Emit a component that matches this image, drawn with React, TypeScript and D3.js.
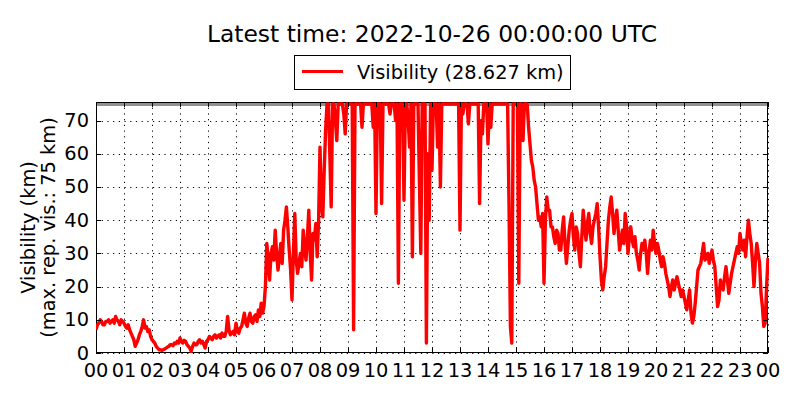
import React, { useEffect, useRef } from "react";
import * as d3 from "d3";

// visibility in km, one reading every 3 minutes from 2022-10-25 00:00 UTC (one row per hour)
const visibility: number[] = [
  7, 8.5, 9, 10, 9.5, 8.5, 8.5, 9.5, 9.5, 10, 9, 9.5, 10, 9, 11, 10, 9.5, 8.5, 10, 9.5,
  9, 8, 7.5, 8.5, 7, 6, 5, 4, 2, 3, 4, 5.5, 6.5, 8, 10, 7.5, 8, 6.5, 7, 5,
  4, 3.5, 3, 2, 1.5, 1, 1, 0.8, 1, 1.2, 1.5, 1.8, 2, 2.5, 2.5, 2.2, 3, 2.8, 3.5, 3,
  4.5, 3.5, 3, 3.8, 3.5, 2.5, 2, 1.5, 0.5, 2, 3, 2.5, 2.5, 3.5, 4, 3, 3.5, 2.5, 1.5, 3.5,
  4, 5, 4.5, 4, 5, 5.5, 4.5, 5, 5.5, 4.5, 6, 5, 5, 6.5, 11, 7, 5.5, 6, 6.5, 5.5,
  9, 6.5, 6, 7.5, 8, 10, 12, 9, 8, 10.5, 12, 9.5, 9, 11, 11.5, 9.5, 13, 11, 15, 12,
  14, 20, 33, 28, 22, 30, 32, 28, 37, 30, 25, 29, 33, 27, 37, 40, 44, 38, 31, 25,
  16, 30, 42, 28, 24, 27, 30, 26, 37, 32, 28, 35, 43, 30, 22, 36, 34, 39, 29, 40,
  62, 45, 41, 55, 67, 75, 75, 60, 44, 75, 75, 70, 64, 75, 75, 75, 75, 72, 66, 75,
  75, 75, 75, 75, 7, 75, 75, 75, 75, 75, 68, 75, 75, 75, 75, 75, 75, 75, 68, 75,
  42, 75, 75, 75, 45, 75, 75, 75, 75, 75, 72, 75, 75, 75, 70, 75, 21, 75, 75, 75,
  46, 75, 75, 70, 62, 75, 29, 75, 75, 75, 75, 52, 30, 75, 75, 75, 3, 60, 40, 75,
  55, 75, 75, 75, 62, 75, 50, 75, 75, 75, 75, 75, 75, 75, 75, 75, 75, 75, 75, 75,
  37, 75, 72, 75, 75, 75, 69, 75, 75, 75, 75, 75, 75, 75, 45, 70, 66, 75, 75, 75,
  63, 75, 68, 75, 75, 75, 75, 75, 75, 75, 75, 75, 75, 75, 75, 45, 8, 3, 75, 75,
  75, 75, 21, 75, 75, 64, 75, 75, 75, 68, 63, 58, 56, 52, 50, 45, 40, 41, 38, 42,
  21, 40, 47, 43, 43, 38, 38, 35, 33, 37, 36, 31, 31, 37, 41, 33, 27, 32, 37, 40,
  42, 35, 31, 38, 36, 30, 26, 35, 43, 38, 34, 39, 42, 36, 33, 38, 40, 42, 45, 38,
  29, 22, 19, 23, 26, 33, 40, 44, 47, 42, 36, 40, 43, 37, 31, 34, 37, 33, 42, 38,
  30, 35, 38, 34, 32, 35, 30, 28, 25, 30, 33, 31, 34, 30, 24, 30, 34, 31, 37, 33,
  30, 33, 31, 28, 26, 29, 27, 24, 22, 20, 17, 20, 22, 19, 21, 23, 21, 19, 17, 19,
  17, 15, 13, 16, 19, 12, 9, 11, 15, 20, 25, 26, 27, 30, 33, 28, 29, 30, 27, 29,
  31, 28, 26, 20, 14, 16, 22, 20, 19, 23, 26, 22, 18, 21, 24, 26, 28, 30, 32, 30,
  36, 33, 31, 34, 29, 35, 40, 36, 33, 27, 20, 28, 33, 30, 27, 18, 14, 8, 9, 20,
  28.6,
];

const stepMinutes = 3;
const startTime = new Date(Date.UTC(2022, 9, 25, 0, 0, 0));
const endTime = new Date(Date.UTC(2022, 9, 26, 0, 0, 0));
const yTicks = [0, 10, 20, 30, 40, 50, 60, 70];
const maxReported = 75;
const yMax = 75.6;

const title = "Latest time: 2022-10-26 00:00:00 UTC";
const legendLabel = "Visibility (28.627 km)";
const yLabelLines = ["Visibility (km)", "(max. rep. vis.: 75 km)"];

const W = 800;
const H = 400;
const m = { left: 96, right: 32, top: 102, bottom: 47 };
const FONT = "DejaVu Sans, sans-serif";

const App = () => {
  const ref = useRef<SVGSVGElement>(null);

  useEffect(() => {
    if (!ref.current) return;
    const svg = d3.select(ref.current);
    svg.selectAll("*").remove();

    const x0 = m.left, x1 = W - m.right, y0 = H - m.bottom, y1 = m.top;
    const x = d3.scaleUtc().domain([startTime, endTime]).range([x0, x1]);
    const y = d3.scaleLinear().domain([0, yMax]).range([y0, y1]);
    const hours = d3.utcHour.range(startTime, d3.utcHour.offset(endTime, 1));

    svg.append("rect").attr("width", W).attr("height", H).attr("fill", "#fff");

    // grid
    const grid = svg.append("g").attr("stroke", "#000").attr("stroke-width", 1)
      .attr("stroke-dasharray", "1.2,4.5").attr("fill", "none");
    hours.forEach((h) => {
      const px = Math.round(x(h)) + 0.5;
      grid.append("line").attr("x1", px).attr("x2", px).attr("y1", y1).attr("y2", y0);
    });
    yTicks.forEach((v) => {
      const py = Math.round(y(v)) + 0.5;
      grid.append("line").attr("x1", x0).attr("x2", x1).attr("y1", py).attr("y2", py);
    });

    svg.append("clipPath").attr("id", "plotclip").append("rect")
      .attr("x", x0).attr("y", y1).attr("width", x1 - x0 + 1).attr("height", y0 - y1);

    // max reported line
    svg.append("line")
      .attr("x1", x0).attr("x2", x1)
      .attr("y1", y(maxReported) + 0.5).attr("y2", y(maxReported) + 0.5)
      .attr("stroke", "#909090").attr("stroke-width", 3);

    const line = d3.line<number>()
      .x((_, i) => x(new Date(startTime.getTime() + i * stepMinutes * 60000)))
      .y((d) => y(d));

    // frame
    svg.append("rect")
      .attr("x", x0 + 0.5).attr("y", y1 + 0.5)
      .attr("width", x1 - x0 - 1).attr("height", y0 - y1 - 1)
      .attr("fill", "none").attr("stroke", "#000").attr("stroke-width", 1);

    svg.append("path")
      .datum(visibility)
      .attr("clip-path", "url(#plotclip)")
      .attr("d", line)
      .attr("fill", "none")
      .attr("stroke", "#ff0000")
      .attr("stroke-width", 3.4)
      .attr("stroke-linejoin", "round");

    // ticks (inward, on all sides)
    const tk = svg.append("g").attr("stroke", "#000").attr("stroke-width", 1);
    const tl = 5;
    hours.forEach((h) => {
      const px = Math.round(x(h)) + 0.5;
      tk.append("line").attr("x1", px).attr("x2", px).attr("y1", y0).attr("y2", y0 - tl);
      tk.append("line").attr("x1", px).attr("x2", px).attr("y1", y1).attr("y2", y1 + tl);
    });
    yTicks.forEach((v) => {
      const py = Math.round(y(v)) + 0.5;
      tk.append("line").attr("x1", x0).attr("x2", x0 + tl).attr("y1", py).attr("y2", py);
      tk.append("line").attr("x1", x1).attr("x2", x1 - tl).attr("y1", py).attr("y2", py);
    });

    // tick labels
    const fmt = d3.utcFormat("%H");
    svg.append("g").selectAll("text").data(hours).enter().append("text")
      .attr("x", (d) => x(d)).attr("y", y0 + 23.5)
      .attr("text-anchor", "middle")
      .attr("font-family", FONT).attr("font-size", 19.4)
      .text((d) => fmt(d));
    svg.append("g").selectAll("text").data(yTicks).enter().append("text")
      .attr("x", x0 - 7).attr("y", (d) => y(d) + 6.5)
      .attr("text-anchor", "end")
      .attr("font-family", FONT).attr("font-size", 19.4)
      .text((d) => String(d));

    // y label
    const yc = (y0 + y1) / 2;
    yLabelLines.forEach((t, i) => {
      svg.append("text")
        .attr("transform", `translate(${35 + i * 20},${yc}) rotate(-90)`)
        .attr("text-anchor", "middle")
        .attr("font-family", FONT).attr("font-size", 19.4)
        .text(t);
    });

    // title
    svg.append("text")
      .attr("x", (x0 + x1) / 2).attr("y", 42)
      .attr("text-anchor", "middle")
      .attr("font-family", FONT).attr("font-size", 23.4)
      .text(title);

    // legend
    const lg = svg.append("g");
    lg.append("rect").attr("x", 294.5).attr("y", 55.5).attr("width", 276).attr("height", 34)
      .attr("fill", "#fff").attr("stroke", "#000").attr("stroke-width", 1);
    lg.append("line").attr("x1", 302).attr("x2", 343).attr("y1", 71.5).attr("y2", 71.5)
      .attr("stroke", "#ff0000").attr("stroke-width", 3);
    lg.append("text").attr("x", 357).attr("y", 79)
      .attr("font-family", FONT).attr("font-size", 19.4)
      .text(legendLabel);
  }, []);

  return (
    <svg ref={ref} width={W} height={H}
      style={{ position: "absolute", left: 0, top: 0 }} />
  );
};

export default App;
